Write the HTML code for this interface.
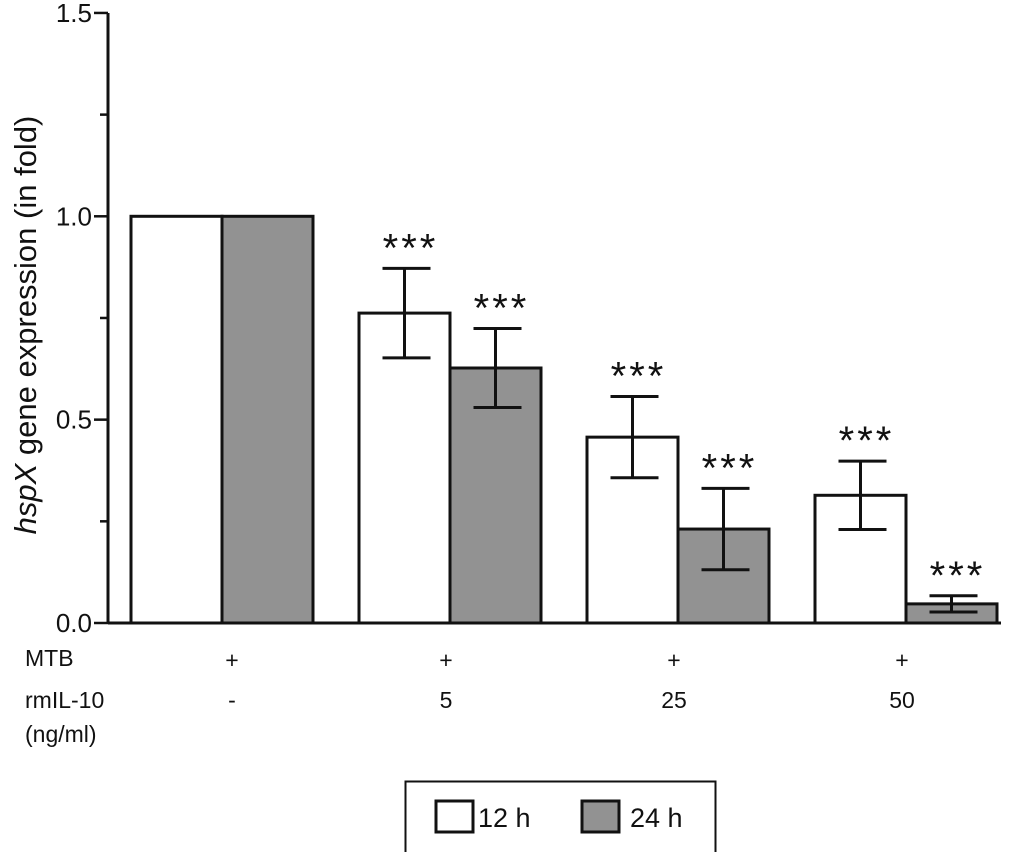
<!DOCTYPE html>
<html><head><meta charset="utf-8"><style>
body{margin:0;background:#fff;}
svg{display:block;font-family:"Liberation Sans",Arial,sans-serif;}
</style></head><body>
<svg id="chart" width="1024" height="852" viewBox="0 0 1024 852">
<g id="axis"></g>
<g id="bars"></g>
<text transform="translate(36,325) rotate(-90)" text-anchor="middle" font-size="31" fill="#111"><tspan font-style="italic">hspX</tspan>  gene expression (in fold)</text>
<g font-size="23" fill="#111">
<text x="25" y="666">MTB</text>
<text x="25" y="708">rmIL-10</text>
<text x="25" y="742">(ng/ml)</text>
</g>
<g id="xl" font-size="23" fill="#111" text-anchor="middle"></g>
<g>
<rect x="405.5" y="781.5" width="310" height="80" fill="#fff" stroke="#111" stroke-width="2"/>
<rect x="436" y="801" width="37" height="31" fill="#fff" stroke="#111" stroke-width="3"/>
<text x="478" y="827" font-size="27" fill="#111">12 h</text>
<rect x="582" y="801" width="37" height="31" fill="#929292" stroke="#111" stroke-width="3"/>
<text x="630" y="827" font-size="27" fill="#111">24 h</text>
</g>
</svg>
<script>
const mtbLabels=["+","+","+","+"];
const doseLabels=["-","5","25","50"];
const values12=[1.0,0.762,0.457,0.314];
const values24=[1.0,0.627,0.231,0.047];
const err12=[0,0.11,0.10,0.084];
const err24=[0,0.097,0.10,0.02];
const sig12=["","***","***","***"];
const sig24=["","***","***","***"];
const yTicks=["0.0","0.5","1.0","1.5"];

const NS="http://www.w3.org/2000/svg";
const y0=623,ppu=406.7;
function y(v){return y0-v*ppu;}
const groupLeft=[131,359,587,815],bw=91;
function mk(tag,at,parent){const e=document.createElementNS(NS,tag);for(const k in at)e.setAttribute(k,at[k]);parent.appendChild(e);return e;}
const ax=document.getElementById('axis'),bars=document.getElementById('bars'),xl=document.getElementById('xl');
const a=mk('line',{x1:108,y1:y(1.5),x2:108,y2:y0+1,stroke:'#111','stroke-width':3},ax);

const b=mk('line',{x1:108,y1:y0,x2:1001,y2:y0,stroke:'#111','stroke-width':3},ax);

for(let i=0;i<=6;i++){const v=i*0.25;const major=i%2==0;
 const t=mk('line',{x1:major?94:100,y1:y(v),x2:108,y2:y(v),stroke:'#111','stroke-width':2.5},ax);
 
 if(major){const tx=mk('text',{x:92,y:y(v)+9,'text-anchor':'end','font-size':26,fill:'#111'},ax);tx.textContent=yTicks[i/2];
 }}
function bar(x,v,e,s,fill,name){
 const r=mk('rect',{x:x,y:y(v),width:bw,height:y0-y(v),fill:fill,stroke:'#111','stroke-width':3},bars);
 
 const c=x+bw/2;
 if(e>0){const g=mk('g',{stroke:'#111','stroke-width':3},bars);
  
  mk('line',{x1:c,y1:y(v+e),x2:c,y2:y(v-e)},g);
  mk('line',{x1:c-22,y1:y(v+e),x2:c+26,y2:y(v+e)},g);
  mk('line',{x1:c-22,y1:y(v-e),x2:c+26,y2:y(v-e)},g);}
 if(s){const t=mk('text',{x:c+6,y:y(v+e)-7,'text-anchor':'middle','font-size':40,fill:'#111','letter-spacing':'3'},bars);t.textContent=s;
  }
}
for(let i=0;i<4;i++){
 bar(groupLeft[i],values12[i],err12[i],sig12[i],'#fff','bar-12h-'+i);
 bar(groupLeft[i]+bw,values24[i],err24[i],sig24[i],'#929292','bar-24h-'+i);
 const cx=i==0?232:groupLeft[i]+bw-4;
 const m=mk('text',{x:cx,y:668},xl);m.textContent=mtbLabels[i];
 
 const d=mk('text',{x:cx,y:708},xl);d.textContent=doseLabels[i];
 
}
</script>
</body></html>
